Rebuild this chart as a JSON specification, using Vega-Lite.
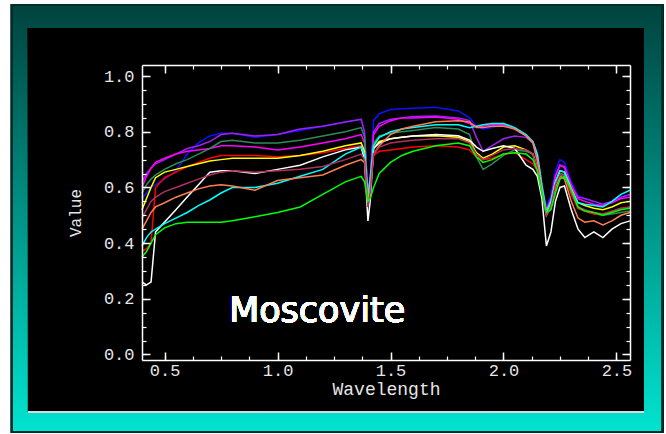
{
  "$schema": "https://vega.github.io/schema/vega-lite/v6.json",
  "width": 488,
  "height": 295,
  "padding": {"left": 10, "top": 3, "right": 2, "bottom": 0},
  "background": "#ffffff",
  "data": {"values": [
    {"w":0.40,"blue":0.56,"purple":0.62,"magenta":0.60,"seagreen":0.58,"red":0.37,"yellow":0.52,"white":0.26,"cyan":0.39,"coral":0.45,"maroon":0.49,"green":0.35},
    {"w":0.42,"blue":0.58,"purple":0.65,"magenta":0.64,"seagreen":0.61,"red":0.38,"yellow":0.56,"white":0.25,"cyan":0.42,"coral":0.48,"maroon":0.52,"green":0.37},
    {"w":0.44,"blue":0.60,"purple":0.67,"magenta":0.67,"seagreen":0.63,"red":0.40,"yellow":0.60,"white":0.26,"cyan":0.44,"coral":0.51,"maroon":0.55,"green":0.40},
    {"w":0.46,"blue":0.61,"purple":0.685,"magenta":0.69,"seagreen":0.645,"red":0.60,"yellow":0.635,"white":0.44,"cyan":0.45,"coral":0.53,"maroon":0.565,"green":0.43},
    {"w":0.50,"blue":0.63,"purple":0.70,"magenta":0.705,"seagreen":0.665,"red":0.635,"yellow":0.655,"white":0.476,"cyan":0.47,"coral":0.545,"maroon":0.585,"green":0.455},
    {"w":0.55,"blue":0.66,"purple":0.72,"magenta":0.72,"seagreen":0.685,"red":0.655,"yellow":0.665,"white":0.52,"cyan":0.49,"coral":0.565,"maroon":0.60,"green":0.47},
    {"w":0.60,"blue":0.72,"purple":0.74,"magenta":0.73,"seagreen":0.70,"red":0.675,"yellow":0.675,"white":0.566,"cyan":0.51,"coral":0.58,"maroon":0.615,"green":0.475},
    {"w":0.65,"blue":0.76,"purple":0.75,"magenta":0.735,"seagreen":0.72,"red":0.69,"yellow":0.685,"white":0.61,"cyan":0.535,"coral":0.595,"maroon":0.63,"green":0.475},
    {"w":0.70,"blue":0.785,"purple":0.765,"magenta":0.74,"seagreen":0.74,"red":0.705,"yellow":0.695,"white":0.655,"cyan":0.555,"coral":0.605,"maroon":0.645,"green":0.475},
    {"w":0.75,"blue":0.795,"purple":0.79,"magenta":0.75,"seagreen":0.765,"red":0.715,"yellow":0.70,"white":0.66,"cyan":0.58,"coral":0.61,"maroon":0.655,"green":0.475},
    {"w":0.80,"blue":0.795,"purple":0.795,"magenta":0.75,"seagreen":0.77,"red":0.715,"yellow":0.705,"white":0.66,"cyan":0.60,"coral":0.605,"maroon":0.66,"green":0.48},
    {"w":0.90,"blue":0.78,"purple":0.785,"magenta":0.745,"seagreen":0.76,"red":0.715,"yellow":0.705,"white":0.65,"cyan":0.60,"coral":0.59,"maroon":0.655,"green":0.495},
    {"w":1.00,"blue":0.79,"purple":0.79,"magenta":0.735,"seagreen":0.76,"red":0.71,"yellow":0.705,"white":0.665,"cyan":0.615,"coral":0.625,"maroon":0.66,"green":0.51},
    {"w":1.10,"blue":0.805,"purple":0.81,"magenta":0.745,"seagreen":0.77,"red":0.715,"yellow":0.715,"white":0.68,"cyan":0.64,"coral":0.635,"maroon":0.665,"green":0.53},
    {"w":1.20,"blue":0.82,"purple":0.82,"magenta":0.76,"seagreen":0.785,"red":0.725,"yellow":0.73,"white":0.71,"cyan":0.665,"coral":0.645,"maroon":0.675,"green":0.575},
    {"w":1.30,"blue":0.835,"purple":0.835,"magenta":0.775,"seagreen":0.80,"red":0.74,"yellow":0.75,"white":0.735,"cyan":0.72,"coral":0.68,"maroon":0.70,"green":0.62},
    {"w":1.37,"blue":0.845,"purple":0.845,"magenta":0.79,"seagreen":0.815,"red":0.75,"yellow":0.76,"white":0.745,"cyan":0.745,"coral":0.70,"maroon":0.72,"green":0.64},
    {"w":1.385,"blue":0.80,"purple":0.80,"magenta":0.76,"seagreen":0.78,"red":0.72,"yellow":0.73,"white":0.70,"cyan":0.72,"coral":0.69,"maroon":0.70,"green":0.62},
    {"w":1.40,"blue":0.58,"purple":0.56,"magenta":0.58,"seagreen":0.55,"red":0.54,"yellow":0.55,"white":0.48,"cyan":0.57,"coral":0.54,"maroon":0.53,"green":0.55},
    {"w":1.41,"blue":0.64,"purple":0.62,"magenta":0.63,"seagreen":0.60,"red":0.59,"yellow":0.60,"white":0.55,"cyan":0.63,"coral":0.60,"maroon":0.58,"green":0.56},
    {"w":1.425,"blue":0.84,"purple":0.80,"magenta":0.79,"seagreen":0.76,"red":0.715,"yellow":0.74,"white":0.74,"cyan":0.75,"coral":0.72,"maroon":0.72,"green":0.60},
    {"w":1.45,"blue":0.865,"purple":0.83,"magenta":0.82,"seagreen":0.785,"red":0.73,"yellow":0.765,"white":0.76,"cyan":0.78,"coral":0.75,"maroon":0.745,"green":0.65},
    {"w":1.50,"blue":0.88,"purple":0.845,"magenta":0.84,"seagreen":0.795,"red":0.735,"yellow":0.775,"white":0.775,"cyan":0.80,"coral":0.79,"maroon":0.76,"green":0.69},
    {"w":1.55,"blue":0.883,"purple":0.85,"magenta":0.85,"seagreen":0.80,"red":0.74,"yellow":0.78,"white":0.78,"cyan":0.81,"coral":0.81,"maroon":0.765,"green":0.715},
    {"w":1.60,"blue":0.885,"purple":0.855,"magenta":0.85,"seagreen":0.805,"red":0.745,"yellow":0.785,"white":0.785,"cyan":0.815,"coral":0.82,"maroon":0.77,"green":0.73},
    {"w":1.70,"blue":0.888,"purple":0.857,"magenta":0.853,"seagreen":0.815,"red":0.75,"yellow":0.786,"white":0.79,"cyan":0.825,"coral":0.836,"maroon":0.775,"green":0.75},
    {"w":1.80,"blue":0.875,"purple":0.85,"magenta":0.845,"seagreen":0.81,"red":0.745,"yellow":0.78,"white":0.786,"cyan":0.825,"coral":0.84,"maroon":0.775,"green":0.76},
    {"w":1.85,"blue":0.85,"purple":0.84,"magenta":0.83,"seagreen":0.79,"red":0.735,"yellow":0.765,"white":0.77,"cyan":0.815,"coral":0.835,"maroon":0.76,"green":0.75},
    {"w":1.88,"blue":0.82,"purple":0.78,"magenta":0.82,"seagreen":0.71,"red":0.71,"yellow":0.725,"white":0.745,"cyan":0.82,"coral":0.815,"maroon":0.72,"green":0.71},
    {"w":1.91,"blue":0.81,"purple":0.73,"magenta":0.82,"seagreen":0.665,"red":0.70,"yellow":0.705,"white":0.73,"cyan":0.825,"coral":0.815,"maroon":0.70,"green":0.69},
    {"w":1.95,"blue":0.815,"purple":0.75,"magenta":0.825,"seagreen":0.685,"red":0.705,"yellow":0.72,"white":0.74,"cyan":0.83,"coral":0.82,"maroon":0.715,"green":0.70},
    {"w":2.00,"blue":0.825,"purple":0.775,"magenta":0.825,"seagreen":0.715,"red":0.72,"yellow":0.745,"white":0.75,"cyan":0.83,"coral":0.82,"maroon":0.735,"green":0.72},
    {"w":2.05,"blue":0.815,"purple":0.785,"magenta":0.81,"seagreen":0.735,"red":0.725,"yellow":0.75,"white":0.74,"cyan":0.815,"coral":0.81,"maroon":0.74,"green":0.725},
    {"w":2.10,"blue":0.785,"purple":0.78,"magenta":0.785,"seagreen":0.73,"red":0.70,"yellow":0.735,"white":0.68,"cyan":0.79,"coral":0.785,"maroon":0.735,"green":0.72},
    {"w":2.13,"blue":0.765,"purple":0.76,"magenta":0.765,"seagreen":0.72,"red":0.685,"yellow":0.72,"white":0.665,"cyan":0.765,"coral":0.76,"maroon":0.72,"green":0.70},
    {"w":2.15,"blue":0.72,"purple":0.69,"magenta":0.71,"seagreen":0.67,"red":0.66,"yellow":0.67,"white":0.64,"cyan":0.72,"coral":0.70,"maroon":0.67,"green":0.66},
    {"w":2.17,"blue":0.61,"purple":0.59,"magenta":0.60,"seagreen":0.58,"red":0.58,"yellow":0.58,"white":0.56,"cyan":0.61,"coral":0.59,"maroon":0.58,"green":0.58},
    {"w":2.19,"blue":0.53,"purple":0.51,"magenta":0.52,"seagreen":0.51,"red":0.50,"yellow":0.51,"white":0.39,"cyan":0.51,"coral":0.50,"maroon":0.50,"green":0.51},
    {"w":2.21,"blue":0.57,"purple":0.55,"magenta":0.56,"seagreen":0.54,"red":0.53,"yellow":0.55,"white":0.44,"cyan":0.55,"coral":0.53,"maroon":0.53,"green":0.52},
    {"w":2.23,"blue":0.66,"purple":0.64,"magenta":0.64,"seagreen":0.61,"red":0.60,"yellow":0.62,"white":0.55,"cyan":0.62,"coral":0.60,"maroon":0.61,"green":0.58},
    {"w":2.25,"blue":0.70,"purple":0.68,"magenta":0.68,"seagreen":0.65,"red":0.64,"yellow":0.66,"white":0.60,"cyan":0.66,"coral":0.64,"maroon":0.645,"green":0.63},
    {"w":2.27,"blue":0.69,"purple":0.67,"magenta":0.675,"seagreen":0.645,"red":0.635,"yellow":0.655,"white":0.605,"cyan":0.655,"coral":0.63,"maroon":0.64,"green":0.64},
    {"w":2.30,"blue":0.62,"purple":0.60,"magenta":0.61,"seagreen":0.58,"red":0.575,"yellow":0.595,"white":0.52,"cyan":0.59,"coral":0.55,"maroon":0.58,"green":0.59},
    {"w":2.33,"blue":0.57,"purple":0.565,"magenta":0.56,"seagreen":0.525,"red":0.525,"yellow":0.545,"white":0.45,"cyan":0.545,"coral":0.49,"maroon":0.53,"green":0.53},
    {"w":2.36,"blue":0.56,"purple":0.56,"magenta":0.55,"seagreen":0.515,"red":0.515,"yellow":0.535,"white":0.42,"cyan":0.54,"coral":0.475,"maroon":0.52,"green":0.515},
    {"w":2.40,"blue":0.55,"purple":0.55,"magenta":0.54,"seagreen":0.505,"red":0.505,"yellow":0.525,"white":0.44,"cyan":0.535,"coral":0.48,"maroon":0.51,"green":0.51},
    {"w":2.44,"blue":0.54,"purple":0.54,"magenta":0.535,"seagreen":0.50,"red":0.505,"yellow":0.52,"white":0.42,"cyan":0.53,"coral":0.465,"maroon":0.505,"green":0.50},
    {"w":2.48,"blue":0.55,"purple":0.55,"magenta":0.545,"seagreen":0.505,"red":0.515,"yellow":0.53,"white":0.45,"cyan":0.55,"coral":0.48,"maroon":0.515,"green":0.51},
    {"w":2.52,"blue":0.565,"purple":0.565,"magenta":0.56,"seagreen":0.51,"red":0.525,"yellow":0.545,"white":0.47,"cyan":0.575,"coral":0.50,"maroon":0.525,"green":0.52},
    {"w":2.56,"blue":0.575,"purple":0.575,"magenta":0.565,"seagreen":0.515,"red":0.53,"yellow":0.55,"white":0.48,"cyan":0.59,"coral":0.51,"maroon":0.53,"green":0.525}
  ]},
  "resolve": {"axis": {"x": "independent", "y": "independent"}},
  "layer": [
    {
      "mark": {"type": "rect", "stroke": "#022e2a", "strokeWidth": 2,
        "fill": {"gradient": "linear", "x1": 0, "y1": 0, "x2": 0, "y2": 1,
          "stops": [{"offset": 0, "color": "#00433e"}, {"offset": 1, "color": "#00e4d0"}]}},
      "encoding": {
        "x": {"datum": -0.1755, "type": "quantitative", "scale": {"domain": [0.4, 2.56], "nice": false, "zero": false}, "axis": null},
        "x2": {"datum": 2.702},
        "y": {"datum": 1.2556, "type": "quantitative", "scale": {"domain": [-0.02, 1.04], "nice": false, "zero": false}, "axis": null},
        "y2": {"datum": -0.2787}
      }
    },
    {
      "mark": {"type": "rect", "fill": "#000000"},
      "encoding": {
        "x": {"datum": -0.1046, "type": "quantitative",
          "axis": {"orient": "bottom", "zindex": 2, "values": [0.5,0.625,0.75,0.875,1,1.125,1.25,1.375,1.5,1.625,1.75,1.875,2,2.125,2.25,2.375,2.5], "labels": false, "domain": false, "tickSize": -4, "tickWidth": 1.2, "title": null}},
        "x2": {"datum": 2.6219},
        "y": {"datum": 1.1729, "type": "quantitative",
          "axis": {"orient": "left", "zindex": 2, "values": [0,0.05,0.1,0.15,0.2,0.25,0.3,0.35,0.4,0.45,0.5,0.55,0.6,0.65,0.7,0.75,0.8,0.85,0.9,0.95,1.0], "labels": false, "domain": false, "tickSize": -4, "tickWidth": 1.2, "title": null}},
        "y2": {"datum": -0.2068}
      }
    },
    {
      "mark": {"type": "rule", "stroke": "#d8d8d8", "strokeWidth": 1.5},
      "encoding": {
        "x": {"datum": -0.1046, "type": "quantitative",
          "axis": {"orient": "top", "zindex": 2, "values": [0.5,0.625,0.75,0.875,1,1.125,1.25,1.375,1.5,1.625,1.75,1.875,2,2.125,2.25,2.375,2.5], "labels": false, "domain": false, "tickSize": -4, "tickWidth": 1.2, "title": null}},
        "x2": {"datum": 2.6219},
        "y": {"datum": -0.2068, "type": "quantitative",
          "axis": {"orient": "right", "zindex": 2, "values": [0,0.05,0.1,0.15,0.2,0.25,0.3,0.35,0.4,0.45,0.5,0.55,0.6,0.65,0.7,0.75,0.8,0.85,0.9,0.95,1.0], "labels": false, "domain": false, "tickSize": -4, "tickWidth": 1.2, "title": null}}
      }
    },
    {
      "transform": [{"fold": ["blue","purple","magenta","seagreen","red","yellow","white","cyan","coral","maroon","green"], "as": ["series", "value"]}],
      "mark": {"type": "line", "strokeWidth": 1.5},
      "encoding": {
        "x": {"field": "w", "type": "quantitative",
          "axis": {"orient": "bottom", "zindex": 2, "values": [0.5,1,1.5,2,2.5], "format": ".1f", "tickSize": -8, "tickWidth": 1.5, "domainWidth": 1.5,
            "labelFontSize": 17, "labelPadding": 10, "labelFlush": false, "title": "Wavelength", "titleFontSize": 18, "titlePadding": 2}},
        "y": {"field": "value", "type": "quantitative",
          "axis": {"orient": "left", "zindex": 2, "values": [0,0.2,0.4,0.6,0.8,1.0], "format": ".1f", "tickSize": -8, "tickWidth": 1.5, "domainWidth": 1.5,
            "labelFontSize": 17, "labelPadding": 16, "labelFlush": false, "title": "Value", "titleFontSize": 16, "titlePadding": 20}},
        "color": {"field": "series", "type": "nominal", "legend": null,
          "scale": {"domain": ["blue","purple","magenta","seagreen","red","yellow","white","cyan","coral","maroon","green"],
            "range": ["#1010ff","#a020f0","#ff00ff","#2e8b57","#ff0000","#ffff00","#ffffff","#00ffff","#ff7f50","#b03060","#00ff00"]}}
      }
    },
    {
      "mark": {"type": "text", "text": "Moscovite", "font": "DejaVu Sans", "fontSize": 35, "fill": "#ffffff", "align": "center", "baseline": "alphabetic"},
      "encoding": {
        "x": {"datum": 1.175, "type": "quantitative",
          "axis": {"orient": "top", "zindex": 2, "values": [0.5,1,1.5,2,2.5], "labels": false, "tickSize": -8, "tickWidth": 1.5, "domainWidth": 1.5, "title": null}},
        "y": {"datum": 0.117, "type": "quantitative",
          "axis": {"orient": "right", "zindex": 2, "values": [0,0.2,0.4,0.6,0.8,1.0], "labels": false, "tickSize": -8, "tickWidth": 1.5, "domainWidth": 1.5, "title": null}}
      }
    }
  ],
  "config": {
    "view": {"stroke": null},
    "axis": {"grid": false, "domainColor": "#ffffff", "tickColor": "#ffffff", "labelColor": "#e6e6e6", "titleColor": "#e6e6e6",
      "labelFont": "Liberation Mono", "titleFont": "Liberation Mono", "titleFontWeight": "normal"}
  }
}
